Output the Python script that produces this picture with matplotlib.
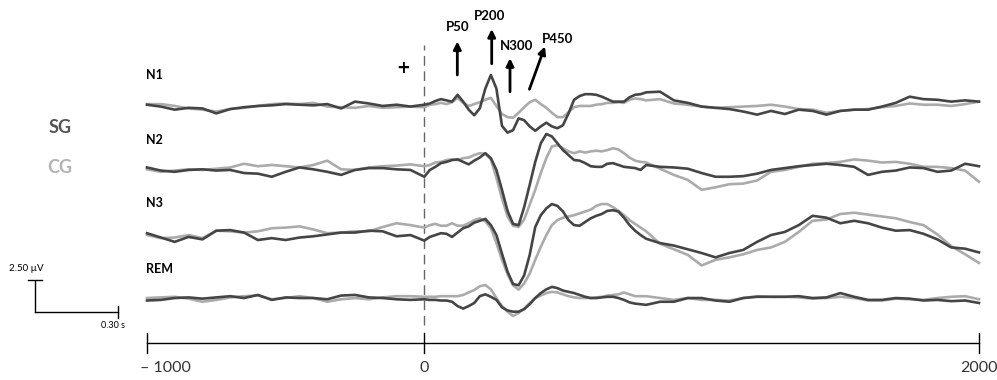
import numpy as np
import matplotlib.pyplot as plt

# time grid (ms): coarse before the stimulus, finer around the ERP
t_ms = np.concatenate([np.arange(-1000, 0, 50), np.arange(0, 801, 20), np.arange(850, 2001, 50)])

# amplitudes in microvolts (positive up), SG = dark, CG = light
n1_sg = [0.1, -0.05, -0.3, -0.15, -0.2, -0.6, -0.25, -0.1, 0.0, 0.05, 0.15, 0.1, 0.05, 0.15, -0.2, 0.35, 0.2, 0.0, 0.1, -0.05,
         0.1, 0.2, 0.4, 0.55, 0.45, 0.35, 0.9, 0.35, -0.3, -0.75, -0.2, 1.4, 2.5, 1.4, -1.6, -2.15, -1.95, -1.0, -1.15, -1.65,
         -2.0, -1.65, -1.35, -1.65, -1.8, -1.55, -0.6, 0.5, 0.8, 0.95, 0.95, 0.9, 0.75, 0.55, 0.35, 0.35, 0.35, 0.7, 0.9, 0.95, 1.1,
         1.15, 0.45, 0.25, -0.05, -0.15, -0.25, -0.45, -0.7, -0.4, -0.65, -0.3, -0.4, -0.7, -0.4, -0.3, -0.3, -0.05, 0.25, 0.75,
         0.55, 0.5, 0.35, 0.45, 0.35]
n1_cg = [0.15, 0.15, 0.0, -0.2, -0.3, -0.45, -0.25, -0.15, 0.0, 0.15, 0.2, 0.15, 0.25, -0.05, -0.1, -0.15, 0.0, -0.15, -0.1, -0.05,
         -0.1, 0.1, 0.15, 0.25, 0.15, 0.3, 0.65, 0.25, 0.0, 0.15, 0.3, 0.5, 0.65, 0.0, -0.65, -0.9, -0.95, -0.55, -0.1, 0.3,
         0.5, 0.15, -0.15, -0.55, -0.9, -0.9, -0.5, -0.1, 0.0, 0.0, 0.0, 0.1, 0.15, 0.25, 0.25, 0.3, 0.25, 0.5, 0.6, 0.55, 0.45,
         0.55, 0.2, 0.1, -0.05, -0.15, -0.1, -0.05, 0.0, 0.1, -0.05, -0.25, -0.3, -0.55, -0.4, -0.3, -0.25, -0.1, 0.0, 0.2,
         0.1, 0.1, 0.0, 0.15, 0.35]
n2_sg = [0.2, -0.05, -0.15, 0.0, 0.05, -0.05, 0.0, -0.25, -0.3, -0.55, -0.15, 0.2, 0.05, -0.15, -0.4, 0.0, 0.15, 0.15, 0.05, 0.0,
         -0.55, 0.0, 0.25, 0.55, 0.65, 0.8, 0.85, 0.65, 0.45, 0.75, 1.0, 1.35, 0.95, 0.0, -1.6, -3.3, -4.35, -4.45, -3.0, -1.2,
         0.65, 2.15, 2.9, 2.7, 2.15, 1.6, 1.2, 0.8, 0.75, 0.55, 0.3, 0.25, 0.25, 0.5, 0.55, 0.4, 0.25, 0.2, 0.15, 0.0, 0.4,
         0.25, 0.2, 0.1, -0.25, -0.55, -0.55, -0.5, -0.3, 0.0, 0.15, 0.3, 0.4, 0.5, 0.4, 0.25, -0.4, -0.15, -0.05, 0.2,
         0.15, -0.15, -0.05, 0.5, 0.3]
n2_cg = [0.05, -0.15, -0.05, 0.05, 0.0, 0.1, 0.2, 0.5, 0.3, 0.4, 0.3, 0.2, 0.4, 0.75, 0.05, 0.0, 0.2, 0.3, 0.35, 0.45,
         0.3, 0.4, 0.6, 0.65, 0.8, 0.85, 0.8, 0.95, 1.0, 1.2, 1.35, 1.3, 0.85, -0.65, -2.3, -3.75, -4.5, -4.6, -4.0, -2.8,
         -1.6, -0.25, 0.95, 1.9, 2.0, 1.75, 1.5, 1.35, 1.5, 1.4, 1.5, 1.55, 1.5, 1.6, 1.75, 1.65, 1.35, 1.0, 0.75, 0.65, 0.6,
         0.1, -0.4, -0.8, -1.6, -1.4, -1.15, -1.1, -0.85, -0.15, 0.0, 0.25, 0.5, 0.55, 0.65, 0.85, 0.75, 0.6, 0.65, 0.5,
         0.25, 0.25, 0.15, -0.05, -0.95]
n3_sg = [0.15, -0.2, -0.55, -0.15, -0.35, 0.35, 0.4, 0.2, -0.4, -0.25, -0.4, -0.2, -0.1, 0.05, 0.2, 0.2, 0.35, 0.3, -0.1, 0.0,
         -0.45, -0.15, 0.0, 0.15, 0.1, -0.15, 0.2, 0.55, 0.7, 1.0, 1.15, 1.3, 0.8, 0.0, -1.5, -2.95, -3.95, -4.05, -3.25, -1.6,
         0.65, 1.6, 2.15, 2.5, 2.35, 1.9, 1.2, 0.8, 0.75, 1.05, 1.35, 1.55, 1.7, 1.95, 2.0, 1.9, 1.4, 0.8, 0.35, 0.0, -0.3,
         -0.65, -0.85, -1.15, -1.45, -1.8, -1.45, -1.2, -0.55, 0.0, 0.25, 0.8, 1.55, 1.4, 0.95, 1.15, 0.95, 0.6, 0.35, 0.4,
         0.1, -0.35, -1.0, -1.1, -1.4]
n3_cg = [0.0, -0.25, -0.2, 0.0, -0.25, 0.35, 0.3, 0.2, 0.3, 0.55, 0.6, 0.7, 0.45, 0.15, 0.2, 0.3, 0.3, 0.65, 0.95, 0.8,
         0.6, 0.8, 0.9, 0.75, 0.75, 0.95, 0.75, 0.75, 0.95, 1.2, 1.35, 1.1, 0.55, -0.65, -2.0, -3.15, -4.05, -4.4, -3.9, -3.1,
         -2.0, -0.95, 0.0, 0.8, 1.2, 1.4, 1.5, 1.6, 1.75, 1.9, 2.05, 2.35, 2.5, 2.5, 2.25, 1.95, 1.6, 1.2, 0.9, 0.6, 0.3,
         -0.7, -1.15, -1.6, -2.45, -2.0, -1.8, -1.55, -1.2, -1.0, -0.55, 0.25, 1.15, 1.25, 1.7, 1.8, 1.65, 1.5, 1.35, 1.05,
         0.8, 0.05, -0.9, -1.55, -2.25]
rem_sg = [-0.2, -0.15, 0.0, 0.05, -0.05, 0.05, 0.15, 0.0, 0.25, -0.15, 0.05, 0.0, 0.0, -0.1, 0.2, 0.25, 0.05, 0.0, -0.1, -0.15,
          -0.1, -0.15, -0.15, -0.2, -0.2, -0.3, -0.65, -0.85, -0.65, -0.4, 0.15, 0.3, 0.1, -0.15, -0.75, -1.0, -1.1, -1.1, -0.9, -0.5,
          0.0, 0.4, 0.7, 0.9, 0.8, 0.6, 0.5, 0.4, 0.25, 0.1, 0.0, 0.0, 0.05, 0.1, 0.1, 0.0, -0.15, -0.35, -0.45, -0.5, -0.55,
          -0.3, -0.3, 0.0, 0.0, -0.2, -0.3, 0.0, 0.1, 0.1, 0.1, 0.15, 0.0, 0.05, 0.4, 0.1, -0.15, -0.15, 0.0, -0.05,
          -0.2, -0.15, -0.25, -0.2, -0.4]
rem_cg = [0.0, 0.05, 0.1, -0.05, -0.3, -0.15, 0.05, 0.15, 0.2, -0.1, 0.0, 0.15, 0.0, -0.3, -0.1, 0.0, -0.1, 0.05, 0.15, 0.15,
          0.1, 0.1, 0.1, 0.15, 0.15, 0.15, 0.15, 0.25, 0.45, 0.65, 0.95, 1.05, 0.7, 0.0, -0.65, -1.1, -1.45, -1.2, -0.85, -0.4,
          0.0, 0.2, 0.4, 0.5, 0.45, 0.3, 0.15, 0.05, 0.0, 0.0, 0.0, 0.05, 0.1, 0.2, 0.25, 0.3, 0.45, 0.3, 0.15, 0.15, 0.15,
          0.0, -0.15, 0.0, -0.15, -0.15, -0.2, 0.0, 0.15, 0.1, 0.1, 0.05, -0.05, 0.0, 0.1, 0.0, -0.2, -0.2, -0.05, -0.1,
          -0.15, 0.0, 0.1, 0.15, -0.1]

stages = ['N1', 'N2', 'N3', 'REM']
sg_data = [n1_sg, n2_sg, n3_sg, rem_sg]
cg_data = [n1_cg, n2_cg, n3_cg, rem_cg]

peak_labels = ['P50', 'P200', 'N300', 'P450']
axis_ticks = [-1000, 0, 2000]
tick_labels = ['\u2013 1000', '0', '2000']

# layout (vertical unit = microvolt, 12.4 px per uV)
baselines = [22.1, 16.94, 11.69, 6.61]
label_y = [24.6, 19.35, 14.3, 8.95]
dark = '#454545'
light = '#ababab'
font = 'Lato'


def main():
    fig = plt.figure(figsize=(9.97, 3.8), dpi=100)
    ax = fig.add_axes([0, 0, 1, 1])
    ax.set_xlim(-1530, 2065)
    ax.set_ylim(0, 30.645)
    ax.axis('off')

    t = np.asarray(t_ms)
    for i, stage in enumerate(stages):
        ax.plot(t, np.asarray(sg_data[i]) + baselines[i], color=dark, lw=1.9, zorder=3)
        ax.plot(t, np.asarray(cg_data[i]) + baselines[i], color=light, lw=1.9, zorder=2)
        ax.text(-1005, label_y[i], stage, fontsize=9, fontweight='bold', family=font,
                ha='left', va='center', color='black')

    # stimulus onset
    ax.plot([0, 0], [4.44, 27.0], color='#666666', lw=1, ls=(0, (7, 4)), zorder=1)
    ax.text(-75, 25.2, '+', fontsize=12, fontweight='bold', ha='center', va='center')

    # group legend
    ax.text(-1313, 20.4, 'SG', fontsize=13, fontweight='bold', family=font, color='#555555',
            ha='center', va='center')
    ax.text(-1313, 17.1, 'CG', fontsize=13, fontweight='bold', family=font, color='#b3b3b3',
            ha='center', va='center')

    # component arrows
    label_pos = [(120, 28.45), (237, 29.35), (332, 26.9), (480, 27.5)]
    arrows = [((119, 24.6), (119, 27.3)), ((243, 25.5), (243, 28.3)),
              ((309, 23.25), (309, 25.95)), ((379, 23.45), (435, 26.9))]
    for name, (lx, ly), (start, end) in zip(peak_labels, label_pos, arrows):
        ax.text(lx, ly, name, fontsize=9.5, fontweight='bold', family=font, ha='center', va='center')
        ax.annotate('', xy=end, xytext=start,
                    arrowprops=dict(arrowstyle='-|>', lw=2, color='black', mutation_scale=11,
                                    shrinkA=0, shrinkB=0))

    # time axis
    ax.plot([-1000, 2000], [2.98, 2.98], color='black', lw=1)
    for tk in axis_ticks:
        ax.plot([tk, tk], [2.2, 3.8], color='black', lw=1)
    label_x = [-935, 0, 2000]
    for x, lab in zip(label_x, tick_labels):
        ax.text(x, 0.95, lab, fontsize=11.5, family=font, color='#333333', ha='center', va='center')

    # scale bar
    sx = -1404
    ax.plot([sx, sx], [5.48, 7.98], color='black', lw=1)
    ax.plot([sx - 25, sx + 25], [8.1, 8.1], color='black', lw=1)
    ax.plot([sx, sx + 300], [5.48, 5.48], color='black', lw=1)
    ax.plot([sx + 300, sx + 300], [5.0, 6.0], color='black', lw=1)
    ax.text(sx - 30, 9.0, '2.50 \u00b5V', fontsize=7, family=font, ha='center', va='center')
    ax.text(sx + 280, 4.4, '0.30 s', fontsize=6.5, family=font, ha='center', va='center')

    fig.savefig('out.png', dpi=100)


if __name__ == "__main__":
    main()
